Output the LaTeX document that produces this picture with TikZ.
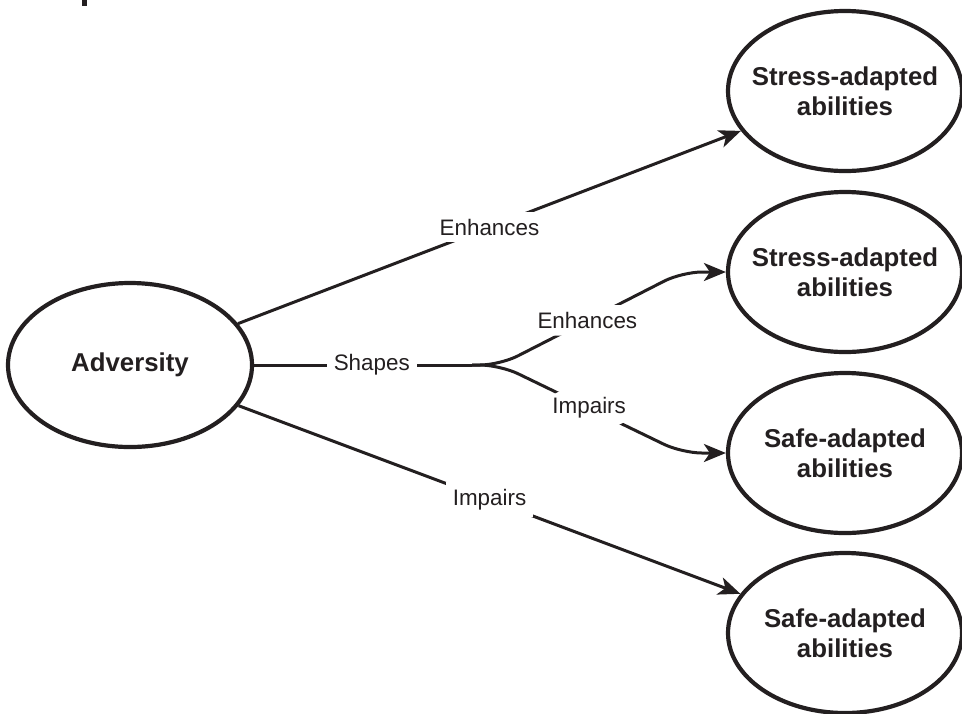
\documentclass[tikz,border=0pt]{standalone}
\usepackage{fontspec}
\setmainfont{Liberation Sans}
\usetikzlibrary{shapes.geometric,arrows.meta}
\definecolor{ink}{HTML}{231F20}
\begin{document}
\begin{tikzpicture}[x=0.5pt,y=-0.5pt,
  oval/.style={ellipse, draw=ink, line width=2.1pt, inner sep=0pt, minimum width=117pt, minimum height=80pt},
  ovtext/.style={align=center, inner sep=0pt, font=\fontsize{12.9}{15}\selectfont\bfseries, text=ink},
  conn/.style={draw=ink, line width=1.5pt},
  arr/.style={conn, -{Stealth[length=11pt,width=9pt,inset=3pt]}},
  lab/.style={fill=white, inner sep=3.5pt, font=\fontsize{11.2}{13}\selectfont, text=ink}]
\useasboundingbox (0,0) rectangle (962,713);
% fragment at top left
\fill[ink] (82,0) rectangle (87,6);
% nodes
\node[oval, minimum width=122pt, minimum height=82pt] (adv) at (130,365) {};
\node[ovtext] at (adv) {Adversity};
\node[oval] (s1) at (845,91) {};
\node[ovtext] at (s1) {Stress-adapted\\abilities};
\node[oval] (s2) at (845,272) {};
\node[ovtext] at (s2) {Stress-adapted\\abilities};
\node[oval] (f1) at (845,453) {};
\node[ovtext] at (f1) {Safe-adapted\\abilities};
\node[oval] (f2) at (845,633) {};
\node[ovtext] at (f2) {Safe-adapted\\abilities};
% branching coordinates
\coordinate (fork) at (472,365);
\coordinate (knee) at (500,365);
\coordinate (elbowU) at (682,272);
\coordinate (elbowD) at (682,453);
% connectors
\draw[arr] (adv) -- node[lab] {Enhances} (s1);
\draw[arr] (adv) -- node[lab] {Impairs} (f2);
\draw[conn] (adv.east) -- node[lab, pos=0.54] {Shapes} (fork);
\draw[arr, rounded corners=10pt] (fork) -- (knee) -- node[lab, pos=0.48] {Enhances} (elbowU) -- (s2.west);
\draw[arr, rounded corners=10pt] (fork) -- (knee) -- node[lab, pos=0.49] {Impairs} (elbowD) -- (f1.west);
\end{tikzpicture}
\end{document}
